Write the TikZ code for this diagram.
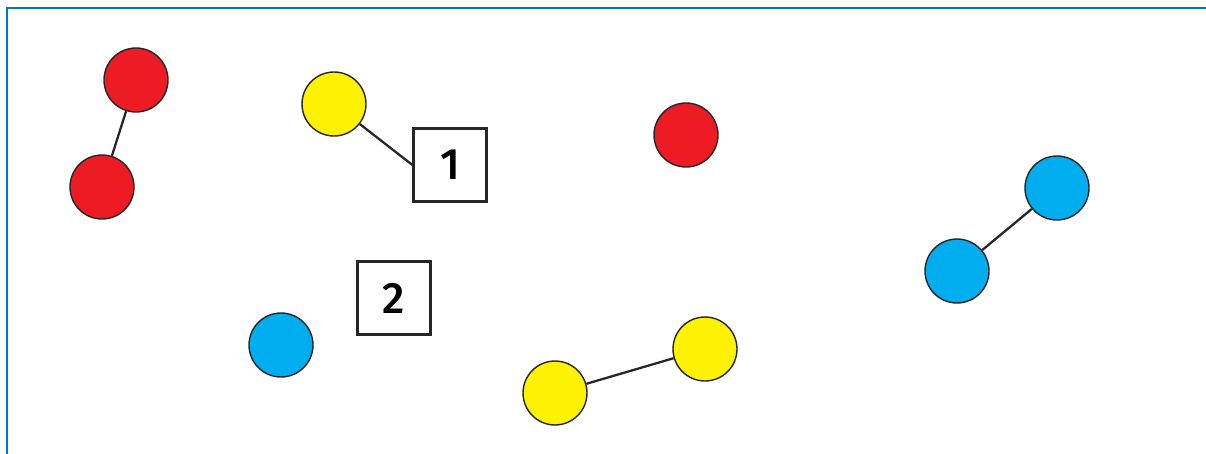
\documentclass[tikz,border=0pt]{standalone}
\usepackage{fontspec}
\setmainfont{Open Sans}
\newfontfamily\numfont{Fira Sans Medium}
\usepackage{tikz}
\usetikzlibrary{positioning}
\definecolor{ballred}{RGB}{237,28,36}
\definecolor{ballyellow}{RGB}{255,242,0}
\definecolor{ballblue}{RGB}{0,174,239}
\definecolor{frameblue}{RGB}{0,119,200}

\begin{document}
\begin{tikzpicture}[x=0.02cm, y=-0.02cm,
  ball/.style={circle, draw=black!85, line width=0.8pt, minimum size=1.28cm, inner sep=0pt},
  numbox/.style={draw=black!85, line width=1.2pt, minimum size=1.46cm, inner sep=0pt,
    font=\numfont\fontsize{25}{28}\selectfont},
  bond/.style={draw=black!85, line width=1.3pt}]
  \useasboundingbox (0,0) rectangle (1206,453);
  % frame
  \draw[frameblue, line width=1.6pt] (7,460) -- (7,8) -- (1215,8);
  % balls
  \node[ball, fill=ballred] (redA) at (136,80) {};
  \node[ball, fill=ballred] (redB) at (102,187) {};
  \node[ball, fill=ballred] (redC) at (686,135) {};
  \node[ball, fill=ballyellow] (yelA) at (334,104) {};
  \node[ball, fill=ballyellow] (yelB) at (555,393) {};
  \node[ball, fill=ballyellow] (yelC) at (705,349) {};
  \node[ball, fill=ballblue] (bluA) at (1057,188) {};
  \node[ball, fill=ballblue] (bluB) at (957,271) {};
  \node[ball, fill=ballblue] (bluC) at (281,345) {};
  % labels
  \node[numbox] (one) at (450,165) {1};
  \node[numbox] (two) at (394,298) {2};
  % bonds
  \draw[bond] (redA) -- (redB);
  \draw[bond] (yelB) -- (yelC);
  \draw[bond] (bluA) -- (bluB);
  \draw[bond] (yelA) -- (one.west);
\end{tikzpicture}
\end{document}
